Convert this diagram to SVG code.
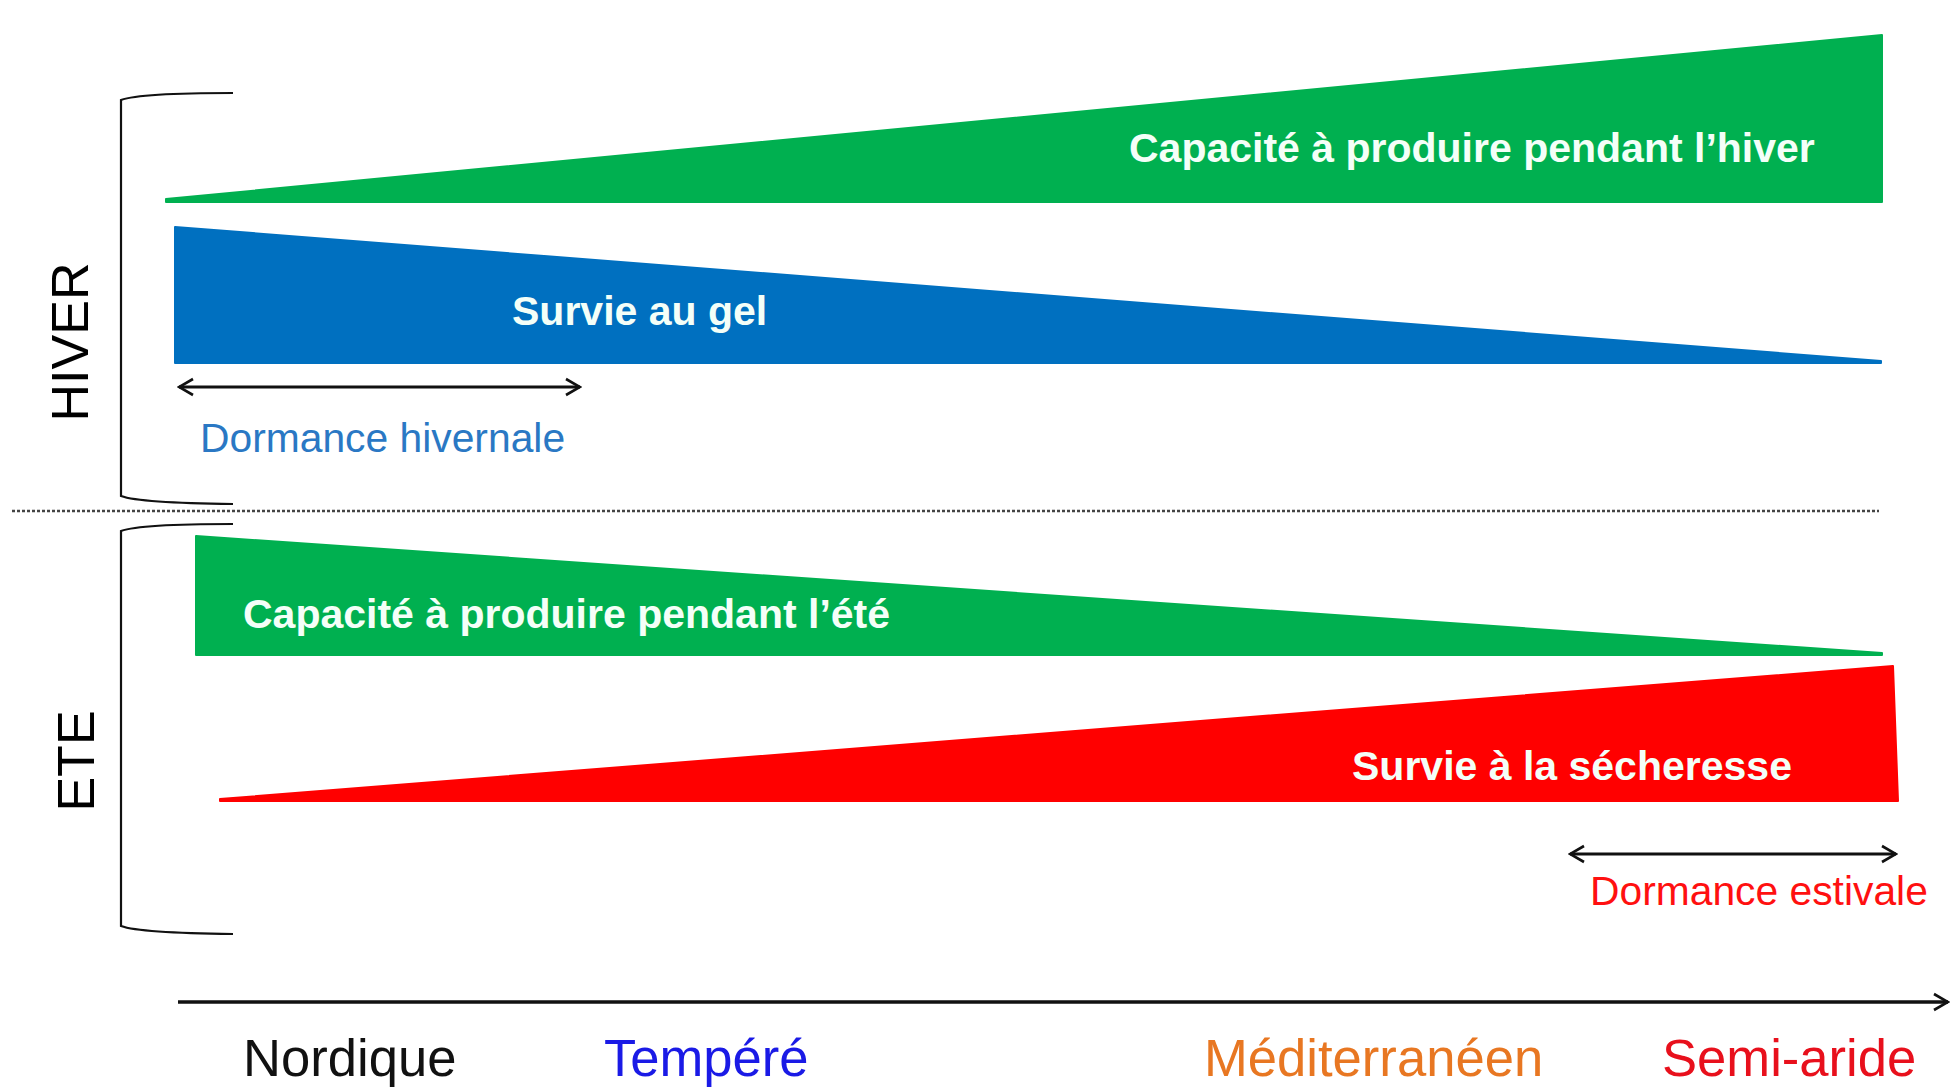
<svg xmlns="http://www.w3.org/2000/svg" width="1957" height="1088" viewBox="0 0 1957 1088">
<style>
.inner{font-family:"Liberation Sans",Arial,sans-serif;font-weight:bold;font-size:41px;fill:#F4FFF8}
.lbl{font-family:"Liberation Sans",Arial,sans-serif;font-size:40.8px}
.axis{font-family:"Liberation Sans",Arial,sans-serif;font-size:52.6px}
.side{font-family:"Liberation Sans",Arial,sans-serif;font-size:52px;fill:#000}
.brace{fill:none;stroke:#111;stroke-width:2.2}
.dbl{stroke:#111;stroke-width:3;fill:none}
</style>
<defs>
<marker id="chev" viewBox="0 0 20 20" refX="18" refY="10" markerWidth="20" markerHeight="20" markerUnits="userSpaceOnUse" orient="auto-start-reverse">
<path d="M4 2 L18 10 L4 18" fill="none" stroke="#111" stroke-width="2.6"/>
</marker>
</defs>
<rect width="1957" height="1088" fill="#fff"/>
<g id="hiver-label"><text class="side" transform="translate(88,342) rotate(-90)" text-anchor="middle">HIVER</text></g>
<g id="ete-label"><text class="side" transform="translate(94,761) rotate(-90)" text-anchor="middle">ETE</text></g>
<g id="brace-hiver"><path class="brace" d="M233 93 Q140 93 121 100 L121 496 Q140 503 233 504"/></g>
<g id="brace-ete"><path class="brace" d="M233 524 Q140 524 121 531 L121 926 Q140 933 233 934"/></g>
<g id="divider"><line x1="12" y1="511" x2="1879" y2="511" stroke="#444" stroke-width="2.4" stroke-dasharray="3,2"/></g>
<g id="prod-hiver">
<polygon points="166,199 1882,35 1882,202 166,202" fill="#00B050" stroke="#00B050" stroke-width="2" stroke-linejoin="round"/>
<text class="inner" x="1129" y="162">Capacité à produire pendant l’hiver</text>
</g>
<g id="survie-gel">
<polygon points="175,227 1881,361 1881,363 175,363" fill="#0070C0" stroke="#0070C0" stroke-width="2" stroke-linejoin="round"/>
<text class="inner" x="512" y="325">Survie au gel</text>
</g>
<g id="prod-ete">
<polygon points="196,536 1882,653 1882,655 196,655" fill="#00B050" stroke="#00B050" stroke-width="2" stroke-linejoin="round"/>
<text class="inner" x="243" y="628">Capacité à produire pendant l’été</text>
</g>
<g id="survie-secheresse">
<polygon points="220,799 1893,666 1898,801 220,801" fill="#FF0000" stroke="#FF0000" stroke-width="2" stroke-linejoin="round"/>
<text class="inner" x="1352" y="780">Survie à la sécheresse</text>
</g>
<g id="connectors">
<line class="dbl" x1="179" y1="387" x2="580" y2="387" marker-start="url(#chev)" marker-end="url(#chev)"/>
<line class="dbl" x1="1570" y1="854" x2="1896" y2="854" marker-start="url(#chev)" marker-end="url(#chev)"/>
<line x1="178" y1="1002" x2="1948" y2="1002" stroke="#111" stroke-width="3.5" marker-end="url(#chev)"/>
</g>
<g id="dormance-hivernale"><text class="lbl" x="200" y="452" fill="#2A78C4">Dormance hivernale</text></g>
<g id="dormance-estivale"><text class="lbl" x="1590" y="905" fill="#FF1010">Dormance estivale</text></g>
<g id="climats">
<text class="axis" x="243" y="1076" fill="#111">Nordique</text>
<text class="axis" x="604" y="1076" fill="#1A1AE6">Tempéré</text>
<text class="axis" x="1204" y="1076" fill="#E87722">Méditerranéen</text>
<text class="axis" x="1662" y="1076" fill="#E8101C">Semi-aride</text>
</g>
</svg>
